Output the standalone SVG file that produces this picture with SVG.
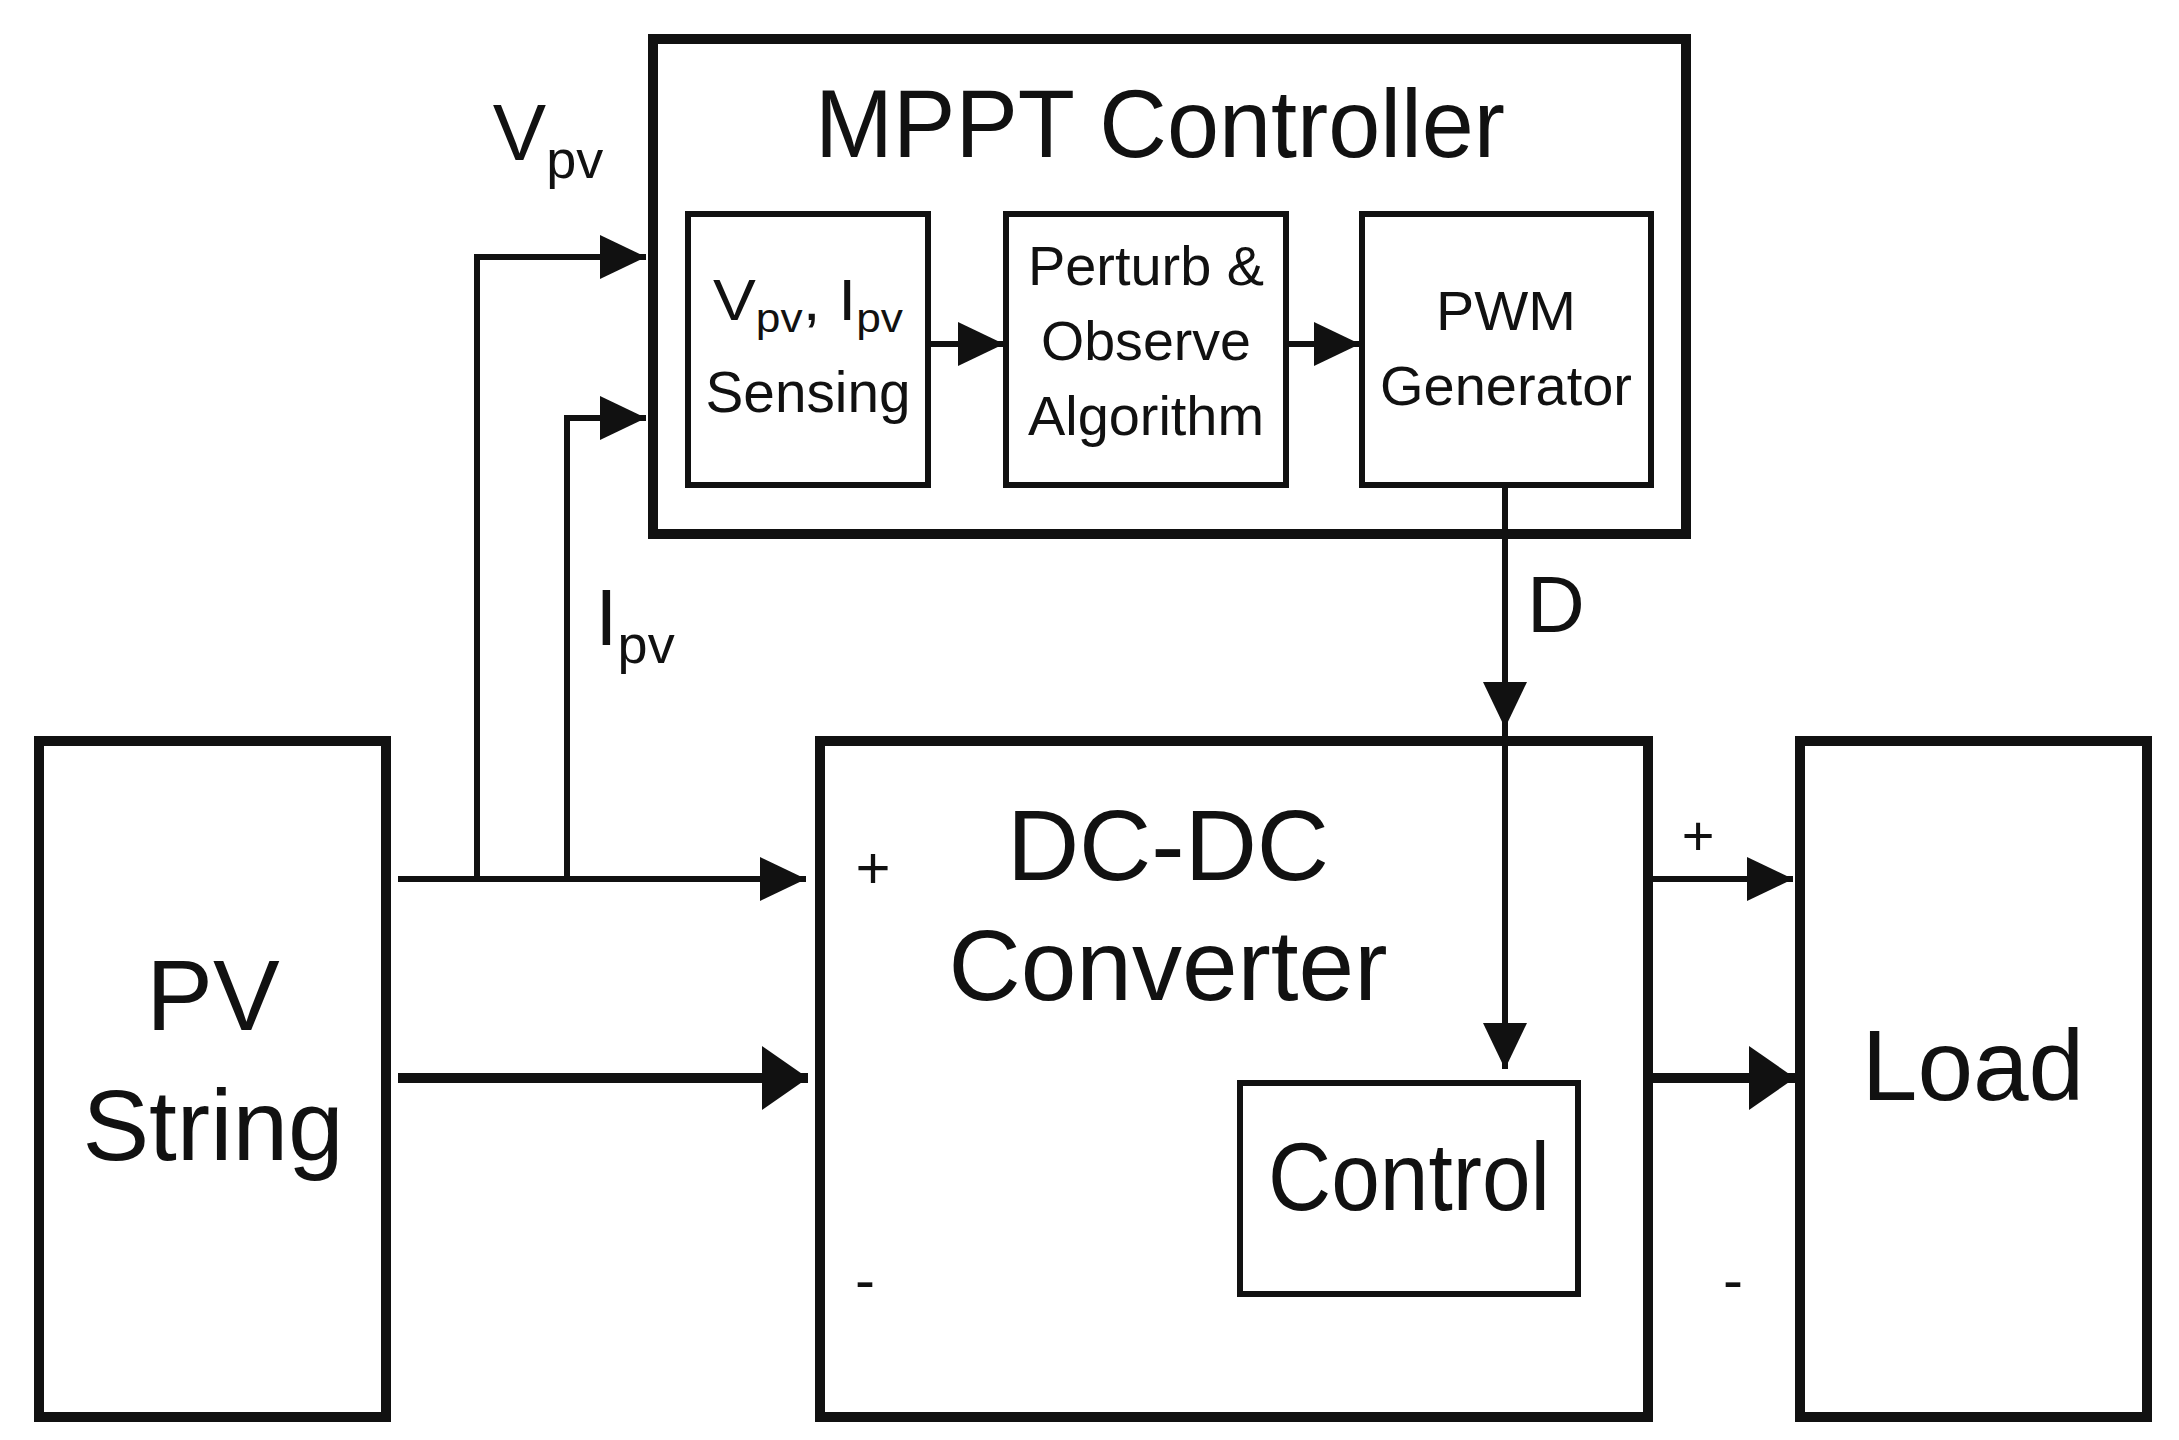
<svg xmlns="http://www.w3.org/2000/svg" width="2179" height="1440" viewBox="0 0 2179 1440">
<defs>
<style>
.b{fill:#fff;stroke:#111;stroke-width:10}
.s{fill:#fff;stroke:#111;stroke-width:6}
text{font-family:"Liberation Sans",Arial,sans-serif;fill:#111;text-anchor:middle}
.l{stroke:#111;stroke-width:6;fill:none}
.t{stroke:#111;stroke-width:10;fill:none}
</style>
<marker id="m" markerWidth="50" markerHeight="50" refX="46" refY="22" orient="auto" markerUnits="userSpaceOnUse"><path d="M0,0 L46,22 L0,44 z" fill="#111"/></marker>
<marker id="n" markerWidth="50" markerHeight="70" refX="46" refY="32" orient="auto" markerUnits="userSpaceOnUse"><path d="M0,0 L46,32 L0,64 z" fill="#111"/></marker>
</defs>
<rect width="2179" height="1440" fill="#fff"/>
<g id="mppt"><rect class="b" x="653" y="39" width="1033" height="495"/><text x="1160" y="157" font-size="96" textLength="690" lengthAdjust="spacingAndGlyphs">MPPT Controller</text></g>
<g id="sensing"><rect class="s" x="688" y="214" width="240" height="271"/>
<text x="808" y="320" font-size="58" textLength="190" lengthAdjust="spacingAndGlyphs">V<tspan font-size="40" dy="12">pv</tspan><tspan dy="-12">, I</tspan><tspan font-size="40" dy="12">pv</tspan></text>
<text x="808" y="412" font-size="58" textLength="205" lengthAdjust="spacingAndGlyphs">Sensing</text></g>
<g id="po"><rect class="s" x="1006" y="214" width="280" height="271"/>
<text x="1146" y="285" font-size="56" textLength="236" lengthAdjust="spacingAndGlyphs">Perturb &amp;</text>
<text x="1146" y="360" font-size="56" textLength="210" lengthAdjust="spacingAndGlyphs">Observe</text>
<text x="1146" y="435" font-size="56" textLength="236" lengthAdjust="spacingAndGlyphs">Algorithm</text></g>
<g id="pwm"><rect class="s" x="1362" y="214" width="289" height="271"/>
<text x="1506" y="330" font-size="56" textLength="140" lengthAdjust="spacingAndGlyphs">PWM</text>
<text x="1506" y="405" font-size="56" textLength="252" lengthAdjust="spacingAndGlyphs">Generator</text></g>
<g id="pv"><rect class="b" x="39" y="741" width="347" height="676"/><text x="213" y="1030" font-size="100">PV</text><text x="213" y="1160" font-size="100">String</text></g>
<g id="dcdc"><rect class="b" x="820" y="741" width="828" height="676"/><text x="1168" y="880" font-size="100">DC-DC</text><text x="1168" y="1000" font-size="100">Converter</text>
<text x="873" y="888" font-size="60">+</text><text x="865" y="1300" font-size="60">-</text></g>
<g id="control"><rect class="s" x="1240" y="1083" width="338" height="211"/><text x="1409" y="1210" font-size="96" textLength="282" lengthAdjust="spacingAndGlyphs">Control</text></g>
<g id="load"><rect class="b" x="1800" y="741" width="347" height="676"/><text x="1973" y="1100" font-size="100">Load</text></g>
<g id="connectors">
<path class="l" d="M398,879 H806" marker-end="url(#m)"/>
<path class="t" d="M398,1078 H808" marker-end="url(#n)"/>
<path class="l" d="M477,879 V257 H646" marker-end="url(#m)"/>
<path class="l" d="M567,879 V418 H646" marker-end="url(#m)"/>
<path class="l" d="M928,344 H1004" marker-end="url(#m)"/>
<path class="l" d="M1286,344 H1360" marker-end="url(#m)"/>
<path class="l" d="M1505,485 V728" marker-end="url(#m)"/>
<path class="l" d="M1505,728 V1069" marker-end="url(#m)"/>
<path class="l" d="M1648,879 H1793" marker-end="url(#m)"/>
<path class="t" d="M1648,1078 H1795" marker-end="url(#n)"/>
</g>
<g id="labels">
<text x="548" y="160" font-size="80">V<tspan font-size="54" dy="18">pv</tspan></text>
<text x="635" y="645" font-size="80">I<tspan font-size="54" dy="18">pv</tspan></text>
<text x="1556" y="632" font-size="80">D</text>
<text x="1698" y="855" font-size="56">+</text>
<text x="1733" y="1300" font-size="60">-</text>
</g>
</svg>
